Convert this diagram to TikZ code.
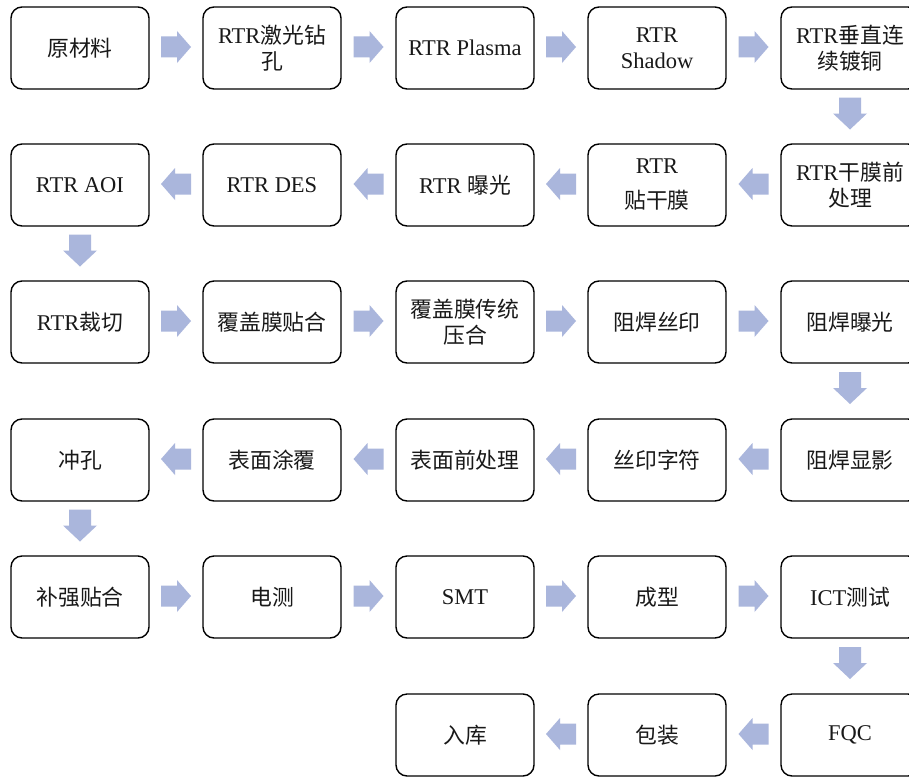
\documentclass[tikz,border=0pt]{standalone}
\usepackage{fontspec}
\setmainfont{Liberation Serif}
\newfontfamily\cjk[Scale=0.97]{Noto Sans CJK SC}
\newcommand\zh[1]{{\cjk #1}}
\usetikzlibrary{calc}
\definecolor{arrowc}{RGB}{170,182,220}
\definecolor{txtc}{RGB}{25,25,25}
\tikzset{
  stepbox/.style={draw=black, line width=1.4pt, rounded corners=11pt,
    minimum width=138pt, minimum height=82pt, inner sep=0pt, align=center,
    text=txtc, font=\fontsize{22.5}{26}\selectfont},
  pics/rarrow/.style={code={
    \fill[arrowc] (-15,-10.5) -- (1,-10.5) -- (1,-16) -- (15,0) -- (1,16) -- (1,10.5) -- (-15,10.5) -- cycle;}},
  pics/darrow/.style={code={
    \fill[arrowc] (-11,-16) -- (11,-16) -- (11,0) -- (17,0) -- (0,16) -- (-17,0) -- (-11,0) -- cycle;}}
}
\begin{document}
\begin{tikzpicture}[x=1pt,y=-1pt]
\useasboundingbox[fill=white] (0,0) rectangle (909,776);
% row 1
\node[stepbox] (a1) at (80,48) {\zh{原材料}};
\node[stepbox] (a2) at (272,48) {RTR\zh{激光钻}\\\zh{孔}};
\node[stepbox] (a3) at (465,48) {RTR Plasma};
\node[stepbox] (a4) at (657,48) {RTR\\Shadow};
\node[stepbox] (a5) at (850,48) {RTR\zh{垂直连}\\\zh{续镀铜}};
% row 2
\node[stepbox] (b5) at (850,185) {RTR\zh{干膜前}\\\zh{处理}};
\node[stepbox] (b4) at (657,185) {RTR\\[9pt]\zh{贴干膜}};
\node[stepbox] (b3) at (465,185) {RTR \zh{曝光}};
\node[stepbox] (b2) at (272,185) {RTR DES};
\node[stepbox] (b1) at (80,185) {RTR AOI};
% row 3
\node[stepbox] (c1) at (80,322) {RTR\zh{裁切}};
\node[stepbox] (c2) at (272,322) {\zh{覆盖膜贴合}};
\node[stepbox] (c3) at (465,322) {\zh{覆盖膜传统}\\\zh{压合}};
\node[stepbox] (c4) at (657,322) {\zh{阻焊丝印}};
\node[stepbox] (c5) at (850,322) {\zh{阻焊曝光}};
% row 4
\node[stepbox] (d5) at (850,460) {\zh{阻焊显影}};
\node[stepbox] (d4) at (657,460) {\zh{丝印字符}};
\node[stepbox] (d3) at (465,460) {\zh{表面前处理}};
\node[stepbox] (d2) at (272,460) {\zh{表面涂覆}};
\node[stepbox] (d1) at (80,460) {\zh{冲孔}};
% row 5
\node[stepbox] (e1) at (80,597) {\zh{补强贴合}};
\node[stepbox] (e2) at (272,597) {\zh{电测}};
\node[stepbox] (e3) at (465,597) {SMT};
\node[stepbox] (e4) at (657,597) {\zh{成型}};
\node[stepbox] (e5) at (850,597) {ICT\zh{测试}};
% row 6
\node[stepbox] (f5) at (850,735) {FQC};
\node[stepbox] (f4) at (657,735) {\zh{包装}};
\node[stepbox] (f3) at (465,735) {\zh{入库}};
% right arrows
\foreach \p/\q in {a1/a2,a2/a3,a3/a4,a4/a5,c1/c2,c2/c3,c3/c4,c4/c5,e1/e2,e2/e3,e3/e4,e4/e5}
  \pic[yshift=1pt] at ($(\p.east)!0.5!(\q.west)$) {rarrow};
% left arrows
\foreach \p/\q in {b5/b4,b4/b3,b3/b2,b2/b1,d5/d4,d4/d3,d3/d2,d2/d1,f5/f4,f4/f3}
  \pic[rotate=180,yshift=-1pt] at ($(\p.west)!0.5!(\q.east)$) {rarrow};
% down arrows
\foreach \p/\q in {a5/b5,b1/c1,c5/d5,d1/e1,e5/f5}
  \pic[yshift=3pt] at ($(\p.south)!0.5!(\q.north)$) {darrow};
\end{tikzpicture}
\end{document}
